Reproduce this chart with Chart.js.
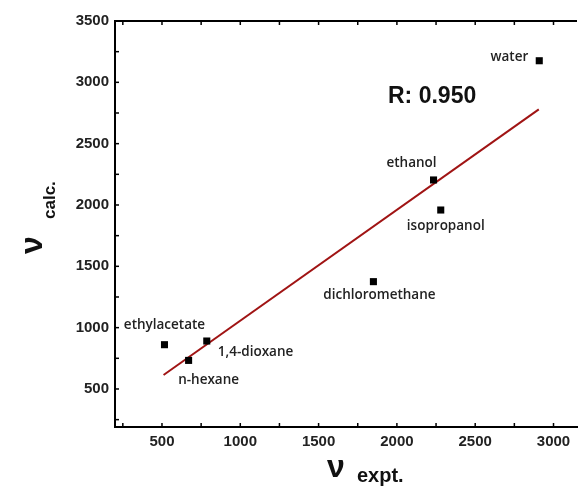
<!DOCTYPE html>
<html>
<head>
<meta charset="utf-8">
<script src="https://cdn.jsdelivr.net/npm/chart.js@4"></script>
<style>
  html, body { margin: 0; padding: 0; background: #fff; }
  #wrap { width: 582px; height: 488px; position: relative; }
</style>
</head>
<body>
<div id="wrap"><canvas id="chart"></canvas></div>
<script>
// values
const solvents = ["ethylacetate", "n-hexane", "1,4-dioxane", "dichloromethane", "ethanol", "isopropanol", "water"]
const vExpt = [516, 670, 786, 1850, 2234, 2280, 2909]
const vCalc = [861, 733, 891, 1375, 2204, 1959, 3176]
const fitX = [510, 2906]
const fitY = [614, 2780]
const xTicks = [500, 1000, 1500, 2000, 2500, 3000]
const yTicks = [500, 1000, 1500, 2000, 2500, 3000, 3500]
const rLabel = "R: 0.950"

// label placement relative to the marker (px), align
const labelPos = {
  "ethylacetate":    { dx: 0,   dy: -20, align: "center" },
  "n-hexane":        { dx: 20,  dy: 20,  align: "center" },
  "1,4-dioxane":     { dx: 11,  dy: 11,  align: "left" },
  "dichloromethane": { dx: 6,   dy: 14,  align: "center" },
  "ethanol":         { dx: -22, dy: -17, align: "center" },
  "isopropanol":     { dx: 5,   dy: 16,  align: "center" },
  "water":           { dx: -11, dy: -4,  align: "right" }
}

const tickFont = { family: "'Liberation Sans', Arial, sans-serif", size: 15, weight: "bold" }

const decor = {
  id: "decor",
  afterDraw(chart) {
    const { ctx, chartArea: a, scales: { x, y } } = chart
    ctx.save()
    // top frame
    ctx.strokeStyle = "#000"
    ctx.lineWidth = 2
    ctx.beginPath()
    ctx.moveTo(a.left - 1, a.top)
    ctx.lineTo(a.right, a.top)
    ctx.stroke()

    // inward ticks, major + minor halfway
    ctx.lineWidth = 1.5
    const xs = []
    xTicks.forEach(v => { xs.push(v); xs.push(v - 250) })
    xs.push(xTicks[xTicks.length - 1] + 250)
    xs.forEach(v => {
      const px = x.getPixelForValue(v)
      if (px <= a.left + 2 || px >= a.right) return
      ctx.beginPath()
      ctx.moveTo(px, a.bottom); ctx.lineTo(px, a.bottom - 4)
      ctx.moveTo(px, a.top); ctx.lineTo(px, a.top + 4)
      ctx.stroke()
    })
    const ys = []
    yTicks.forEach(v => { ys.push(v); ys.push(v - 250) })
    ys.forEach(v => {
      const py = y.getPixelForValue(v)
      if (py >= a.bottom - 2 || py < a.top + 2) return
      ctx.beginPath()
      ctx.moveTo(a.left, py); ctx.lineTo(a.left + 4, py)
      ctx.stroke()
    })

    // solvent labels
    ctx.fillStyle = "#222"
    ctx.font = "600 13.5px 'Open Sans', sans-serif"
    ctx.textBaseline = "middle"
    solvents.forEach((s, i) => {
      const p = labelPos[s]
      ctx.textAlign = p.align
      ctx.fillText(s, x.getPixelForValue(vExpt[i]) + p.dx, y.getPixelForValue(vCalc[i]) + p.dy)
    })

    // correlation
    ctx.fillStyle = "#111"
    ctx.font = "bold 23px 'Liberation Sans', Arial, sans-serif"
    ctx.textAlign = "left"
    ctx.fillText(rLabel, 388, 97)

    // axis titles
    ctx.textBaseline = "alphabetic"
    ctx.font = "bold 32px 'Liberation Sans', Arial, sans-serif"
    ctx.fillText("\u03BD", 327, 477)
    ctx.font = "bold 20px 'Liberation Sans', Arial, sans-serif"
    ctx.fillText("expt.", 357, 482)

    ctx.translate(42, 254)
    ctx.rotate(-Math.PI / 2)
    ctx.font = "bold 32px 'Liberation Sans', Arial, sans-serif"
    ctx.fillText("\u03BD", 0, 0)
    ctx.font = "bold 17px 'Liberation Sans', Arial, sans-serif"
    ctx.fillText("calc.", 35, 13)
    ctx.restore()
  }
}

new Chart(document.getElementById("chart"), {
  type: "scatter",
  data: {
    datasets: [
      {
        label: "solvents",
        data: vExpt.map((v, i) => ({ x: v, y: vCalc[i] })),
        pointStyle: "rect",
        pointRadius: 5,
        backgroundColor: "#000",
        borderColor: "#000",
        borderWidth: 0
      },
      {
        label: "fit",
        type: "line",
        data: fitX.map((v, i) => ({ x: v, y: fitY[i] })),
        borderColor: "#a01414",
        borderWidth: 2,
        pointRadius: 0,
        fill: false
      }
    ]
  },
  options: {
    responsive: true,
    maintainAspectRatio: false,
    animation: false,
    layout: { padding: { top: 21, right: 0, left: 0, bottom: 0 } },
    plugins: { legend: { display: false }, tooltip: { enabled: false } },
    scales: {
      x: {
        type: "linear",
        min: 200,
        max: 3150,
        afterBuildTicks: s => { s.ticks = xTicks.map(v => ({ value: v })) },
        afterFit: s => { s.height = 61 },
        grid: { display: false, drawTicks: false },
        border: { display: true, color: "#000", width: 2 },
        ticks: { font: tickFont, color: "#222", padding: 6, maxRotation: 0, callback: v => String(v) }
      },
      y: {
        min: 190,
        max: 3500,
        afterBuildTicks: s => { s.ticks = yTicks.map(v => ({ value: v })) },
        afterFit: s => { s.width = 115 },
        grid: { display: false, drawTicks: false },
        border: { display: true, color: "#000", width: 2 },
        ticks: { font: tickFont, color: "#222", padding: 6, callback: v => String(v) }
      }
    }
  },
  plugins: [decor]
})
</script>
</body>
</html>
